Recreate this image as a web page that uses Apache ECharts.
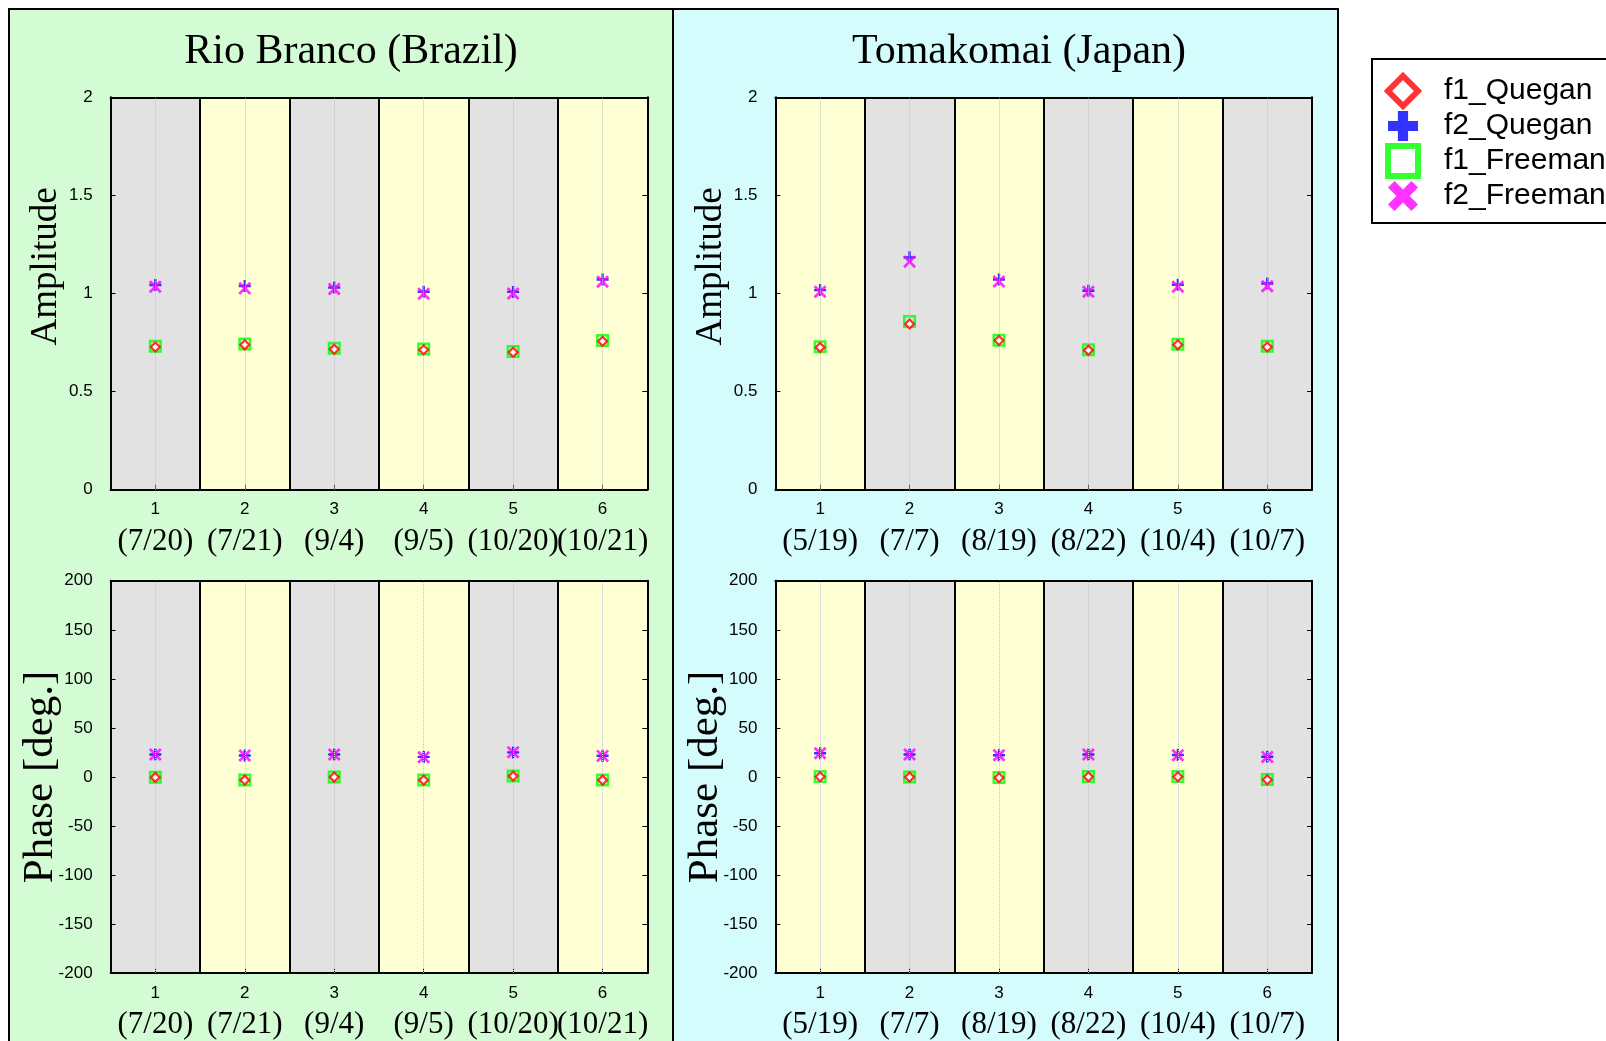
<!DOCTYPE html>
<html>
<head>
<meta charset="utf-8">
<script src="https://cdn.jsdelivr.net/npm/echarts@6/dist/echarts.min.js"></script>
<style>
  html, body { margin: 0; padding: 0; background: #ffffff; }
  #chart { width: 1606px; height: 1041px; }
</style>
</head>
<body>
<div id="chart"></div>
<script>
// ---- data ----
const categories = ['1', '2', '3', '4', '5', '6'];
const rioDates = ['(7/20)', '(7/21)', '(9/4)', '(9/5)', '(10/20)', '(10/21)'];
const tomaDates = ['(5/19)', '(7/7)', '(8/19)', '(8/22)', '(10/4)', '(10/7)'];
const ampTicks = [0, 0.5, 1, 1.5, 2];
const phaseTicks = [-200, -150, -100, -50, 0, 50, 100, 150, 200];

// Rio Branco (Brazil)
const rioAmpF1Quegan  = [0.727, 0.738, 0.716, 0.713, 0.700, 0.756];
const rioAmpF2Quegan  = [1.043, 1.038, 1.030, 1.009, 1.008, 1.071];
const rioAmpF1Freeman = [0.731, 0.742, 0.720, 0.717, 0.704, 0.760];
const rioAmpF2Freeman = [1.034, 1.026, 1.023, 0.999, 1.000, 1.060];
const rioPhF1Quegan   = [-0.5, -3.3, -0.2, -3.3, 0.8, -3.3];
const rioPhF2Quegan   = [22.8, 21.8, 22.8, 20.4, 25.0, 21.6];
const rioPhF1Freeman  = [-0.3, -3.1, 0.0, -3.1, 1.0, -3.1];
const rioPhF2Freeman  = [22.8, 21.8, 22.8, 20.1, 25.2, 21.4];

// Tomakomai (Japan)
const tomaAmpF1Quegan  = [0.725, 0.844, 0.760, 0.710, 0.738, 0.727];
const tomaAmpF2Quegan  = [1.017, 1.184, 1.071, 1.014, 1.044, 1.051];
const tomaAmpF1Freeman = [0.728, 0.857, 0.762, 0.713, 0.741, 0.731];
const tomaAmpF2Freeman = [1.009, 1.162, 1.061, 1.009, 1.034, 1.037];
const tomaPhF1Quegan   = [0.1, -0.2, -0.9, 0.1, 0.1, -2.9];
const tomaPhF2Quegan   = [24.1, 22.8, 22.1, 22.8, 22.3, 20.6];
const tomaPhF1Freeman  = [0.3, 0.0, -0.7, 0.3, 0.3, -2.7];
const tomaPhF2Freeman  = [24.1, 22.8, 22.1, 22.8, 22.1, 20.4];

// ---- styles ----
const GRAY = '#e2e2e2';
const YELLOW = '#ffffd4';
const SANS = 'Liberation Sans';
const SERIF = 'Liberation Serif';

const PLUS_PATH = 'path://M4,0H6V4H10V6H6V10H4V6H0V4H4Z';
const CROSS_PATH = 'path://M0,1.5L1.5,0L5,3.5L8.5,0L10,1.5L6.5,5L10,8.5L8.5,10L5,6.5L1.5,10L0,8.5L3.5,5Z';

const markerStyles = {
  f1_Quegan:  { symbol: 'diamond', symbolSize: 9,  z: 5, itemStyle: { color: '#ffffff', borderColor: '#ff0000', borderWidth: 2.2 } },
  f2_Quegan:  { symbol: PLUS_PATH, symbolSize: 12, z: 3, itemStyle: { color: '#0000ff' } },
  f1_Freeman: { symbol: 'rect',    symbolSize: 10.5, z: 4, itemStyle: { color: 'rgba(0,0,0,0)', borderColor: '#00ff00', borderWidth: 2.5 } },
  f2_Freeman: { symbol: CROSS_PATH, symbolSize: 13, z: 4, itemStyle: { color: '#ff00ff' } }
};

// plot rectangles
const grids = [
  { left: 110.6, top: 97.3,  width: 536.7, height: 392.3 },
  { left: 110.6, top: 580.8, width: 536.7, height: 392.2 },
  { left: 775.4, top: 97.3,  width: 536.6, height: 392.3 },
  { left: 775.4, top: 580.8, width: 536.6, height: 392.2 }
];

const panels = [
  { dates: rioDates, bands: [GRAY, YELLOW], axisName: 'Amplitude', nameSize: 37, nameGap: 46, nameShift: 54, nameFree: false, ticks: ampTicks,
    values: { f1_Quegan: rioAmpF1Quegan, f2_Quegan: rioAmpF2Quegan, f1_Freeman: rioAmpF1Freeman, f2_Freeman: rioAmpF2Freeman } },
  { dates: rioDates, bands: [GRAY, YELLOW], axisName: 'Phase [deg.]', nameSize: 43, nameGap: 48, nameShift: 0, nameFree: true, ticks: phaseTicks,
    values: { f1_Quegan: rioPhF1Quegan, f2_Quegan: rioPhF2Quegan, f1_Freeman: rioPhF1Freeman, f2_Freeman: rioPhF2Freeman } },
  { dates: tomaDates, bands: [YELLOW, GRAY], axisName: 'Amplitude', nameSize: 37, nameGap: 46, nameShift: 54, nameFree: false, ticks: ampTicks,
    values: { f1_Quegan: tomaAmpF1Quegan, f2_Quegan: tomaAmpF2Quegan, f1_Freeman: tomaAmpF1Freeman, f2_Freeman: tomaAmpF2Freeman } },
  { dates: tomaDates, bands: [YELLOW, GRAY], axisName: 'Phase [deg.]', nameSize: 43, nameGap: 48, nameShift: 0, nameFree: true, ticks: phaseTicks,
    values: { f1_Quegan: tomaPhF1Quegan, f2_Quegan: tomaPhF2Quegan, f1_Freeman: tomaPhF1Freeman, f2_Freeman: tomaPhF2Freeman } }
];

const seriesOrder = ['f1_Freeman', 'f1_Quegan', 'f2_Quegan', 'f2_Freeman'];
const legendOrder = ['f1_Quegan', 'f2_Quegan', 'f1_Freeman', 'f2_Freeman'];

const xAxes = [];
const yAxes = [];
const series = [];

panels.forEach((p, i) => {
  const t = p.ticks;
  const step = t[1] - t[0];
  // bottom axis: labels, centred ticks, band fills and band separators
  xAxes.push({
    type: 'category', gridIndex: i, data: categories, boundaryGap: true, position: 'bottom',
    axisLine: { show: true, onZero: false, lineStyle: { color: '#000', width: 2 } },
    axisTick: { show: true, alignWithLabel: true, inside: true, length: 5, lineStyle: { color: '#000', width: 1 } },
    axisLabel: {
      margin: 10, interval: 0,
      formatter: (v, idx) => '{n|' + v + '}\n{d|' + p.dates[idx] + '}',
      rich: {
        n: { fontFamily: SANS, fontSize: 17, color: '#000', lineHeight: 20 },
        d: { fontFamily: SERIF, fontSize: 31, color: '#000', lineHeight: 44 }
      }
    },
    splitLine: { show: true, interval: 0, lineStyle: { color: '#000', width: 2 } },
    splitArea: { show: true, interval: 0, areaStyle: { color: p.bands } }
  });
  // top frame line
  xAxes.push({
    type: 'category', gridIndex: i, data: categories, boundaryGap: true, position: 'top',
    axisLine: { show: true, onZero: false, lineStyle: { color: '#000', width: 2 } },
    axisTick: { show: false }, axisLabel: { show: false },
    splitLine: { show: false }, splitArea: { show: false }
  });
  const nameStyle = { fontFamily: SERIF, fontSize: p.nameSize, color: '#000' };
  if (p.nameShift) nameStyle.padding = [0, 0, 0, p.nameShift];
  const yLeft = {
    type: 'value', gridIndex: i, position: 'left',
    min: t[0], max: t[t.length - 1], interval: step,
    name: p.axisName, nameLocation: 'middle', nameGap: p.nameGap,
    nameTextStyle: nameStyle,
    axisLine: { show: true, onZero: false, lineStyle: { color: '#000', width: 2 } },
    axisTick: { show: true, inside: true, length: 5, lineStyle: { color: '#000' } },
    axisLabel: { margin: 18, fontFamily: SANS, fontSize: 17, color: '#000' },
    splitLine: { show: true, lineStyle: { color: '#c4c4c4', type: 'dotted', width: 1 } }
  };
  // the phase title sits over its tick labels
  if (p.nameFree) yLeft.nameMoveOverlap = false;
  yAxes.push(yLeft);
  yAxes.push({
    type: 'value', gridIndex: i, position: 'right',
    min: t[0], max: t[t.length - 1], interval: step,
    axisLine: { show: true, onZero: false, lineStyle: { color: '#000', width: 2 } },
    axisTick: { show: true, inside: true, length: 5, lineStyle: { color: '#000' } },
    axisLabel: { show: false },
    splitLine: { show: false }
  });

  seriesOrder.forEach((name, k) => {
    const m = markerStyles[name];
    const s = {
      name: name, type: 'scatter',
      xAxisIndex: i * 2, yAxisIndex: i * 2,
      symbol: m.symbol, symbolSize: m.symbolSize, z: m.z,
      itemStyle: m.itemStyle,
      data: categories.map((c, j) => [c, p.values[name][j]]),
      silent: true
    };
    if (k === 0) {
      // dotted guide through each category centre
      s.markLine = {
        silent: true, symbol: 'none', label: { show: false }, animation: false,
        lineStyle: { color: '#c4c4c4', type: 'dotted', width: 1 },
        data: categories.map(c => ({ xAxis: c }))
      };
    }
    series.push(s);
  });
});

const legendIcons = {
  f1_Quegan:  { icon: 'diamond', itemStyle: { color: '#ffffff', borderColor: '#ff0000', borderWidth: 6 } },
  f2_Quegan:  { icon: 'path://M3.3,0H6.7V3.3H10V6.7H6.7V10H3.3V6.7H0V3.3H3.3Z', itemStyle: { color: '#0000ff', borderWidth: 0 } },
  f1_Freeman: { icon: 'rect', itemStyle: { color: '#ffffff', borderColor: '#00ff00', borderWidth: 6 } },
  f2_Freeman: { icon: 'path://M0,2.2L2.2,0L5,2.8L7.8,0L10,2.2L7.2,5L10,7.8L7.8,10L5,7.2L2.2,10L0,7.8L2.8,5Z', itemStyle: { color: '#ff00ff', borderWidth: 0 } }
};

const option = {
  animation: false,
  backgroundColor: '#ffffff',
  graphic: [
    { type: 'rect', z: -10, shape: { x: 9, y: 9, width: 664, height: 1100 },
      style: { fill: '#d4fcd4', stroke: '#000', lineWidth: 2 } },
    { type: 'rect', z: -10, shape: { x: 673, y: 9, width: 665, height: 1100 },
      style: { fill: '#d4fcfc', stroke: '#000', lineWidth: 2 } }
  ],
  title: [
    { text: 'Rio Branco (Brazil)', left: 346, top: 26, textAlign: 'center',
      textStyle: { fontFamily: SERIF, fontSize: 42, fontWeight: 'normal', color: '#000' } },
    { text: 'Tomakomai (Japan)', left: 1014, top: 26, textAlign: 'center',
      textStyle: { fontFamily: SERIF, fontSize: 42, fontWeight: 'normal', color: '#000' } }
  ],
  legend: {
    orient: 'vertical', left: 1372, top: 59,
    itemWidth: 30, itemHeight: 30, itemGap: 2,
    padding: [14, 60, 12, 13],
    borderColor: '#000', borderWidth: 2, backgroundColor: '#ffffff',
    textStyle: { fontFamily: SANS, fontSize: 30, lineHeight: 30, color: '#000', padding: [0, 0, 0, 21] },
    data: legendOrder.map(n => Object.assign({ name: n }, legendIcons[n]))
  },
  grid: grids.map(g => Object.assign({ containLabel: false }, g)),
  xAxis: xAxes,
  yAxis: yAxes,
  series: series
};

const chart = echarts.init(document.getElementById('chart'), null, { renderer: 'canvas' });
chart.setOption(option);
</script>
</body>
</html>
